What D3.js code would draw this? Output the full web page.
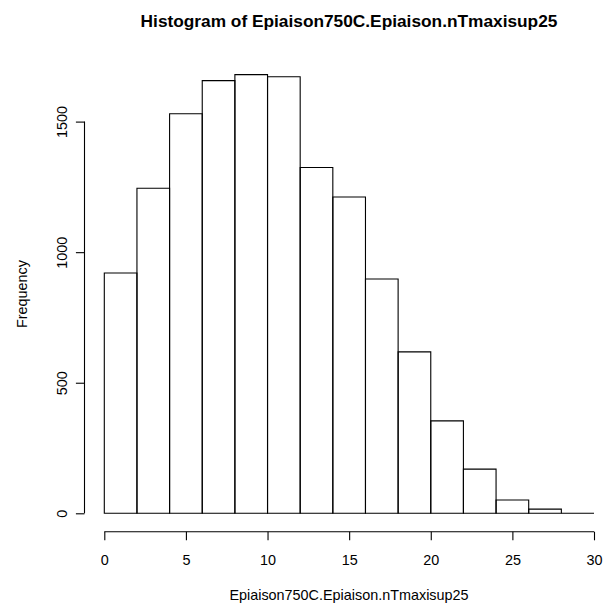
<!DOCTYPE html>
<html>
<head>
<meta charset="utf-8">
<script src="https://cdn.jsdelivr.net/npm/d3@7"></script>
<style>
  body { margin: 0; background: #fff; }
  text { font-family: "Liberation Sans", Arial, sans-serif; fill: #000; }
</style>
</head>
<body>
<div id="wrapper"></div>
<script>
// histogram breaks and counts
var breaks = [0, 2, 4, 6, 8, 10, 12, 14, 16, 18, 20, 22, 24, 26, 28, 30]
var counts = [920, 1245, 1530, 1657, 1680, 1672, 1324, 1211, 897, 618, 354, 169, 51, 16, 0]
var xTicks = [0, 5, 10, 15, 20, 25, 30]
var yTicks = [0, 500, 1000, 1500]

var title = "Histogram of Epiaison750C.Epiaison.nTmaxisup25"
var xLabel = "Epiaison750C.Epiaison.nTmaxisup25"
var yLabel = "Frequency"

function drawHist() {
    var width = 614
    var height = 608

    var bins = counts.map((c, i) => ({ x0: breaks[i], x1: breaks[i + 1], count: c }))

    var x = d3.scaleLinear()
        .domain([0, 30])
        .range([104.3, 594])

    var y = d3.scaleLinear()
        .domain([0, 1500])
        .range([513.3, 121.6])

    var svg = d3.select("#wrapper")
        .append("svg")
        .attr("width", width)
        .attr("height", height)

    svg.append("rect")
        .attr("width", width)
        .attr("height", height)
        .style("fill", "#fff")

    // bars as closed paths so an empty bin still shows its bottom line
    svg.append("g")
        .selectAll("path")
        .data(bins)
        .enter()
        .append("path")
        .attr("d", d => `M${x(d.x0)},${y(0)}V${y(d.count)}H${x(d.x1)}V${y(0)}Z`)
        .style("fill", "none")
        .style("stroke", "#000")
        .style("stroke-width", 1.1)

    // x axis, drawn below the plot like base R
    var xAxis = svg.append("g")
        .attr("transform", "translate(0,531.7)")
        .call(d3.axisBottom(x).tickValues(xTicks).tickSize(8.6).tickPadding(14).tickFormat(d3.format("d")))
    xAxis.select(".domain").attr("d", `M${x(0)},0H${x(30)}`)

    // y axis
    var yAxis = svg.append("g")
        .attr("transform", "translate(84.5,0)")
        .call(d3.axisLeft(y).tickValues(yTicks).tickSize(8.6).tickFormat(d3.format("d")))
    yAxis.select(".domain").attr("d", `M0,${y(0)}V${y(1500)}`)

    svg.selectAll(".domain, .tick line")
        .style("stroke", "#000")
        .style("stroke-width", 1.1)

    xAxis.selectAll("text")
        .style("font-size", "14.4px")
        .attr("dy", null)
        .attr("y", 33.2)

    // rotated y tick labels (parallel to axis)
    yAxis.selectAll(".tick text")
        .style("font-size", "14.4px")
        .attr("x", null)
        .attr("dy", null)
        .attr("text-anchor", "middle")
        .attr("transform", "translate(-18,0) rotate(-90)")

    svg.append("text")
        .attr("x", 349)
        .attr("y", 26.7)
        .attr("text-anchor", "middle")
        .style("font-size", "17.3px")
        .style("font-weight", "bold")
        .text(title)

    svg.append("text")
        .attr("x", 349)
        .attr("y", 600)
        .attr("text-anchor", "middle")
        .style("font-size", "14.4px")
        .text(xLabel)

    svg.append("text")
        .attr("transform", "translate(27,294) rotate(-90)")
        .attr("text-anchor", "middle")
        .style("font-size", "14.4px")
        .text(yLabel)
}

drawHist()
</script>
</body>
</html>
